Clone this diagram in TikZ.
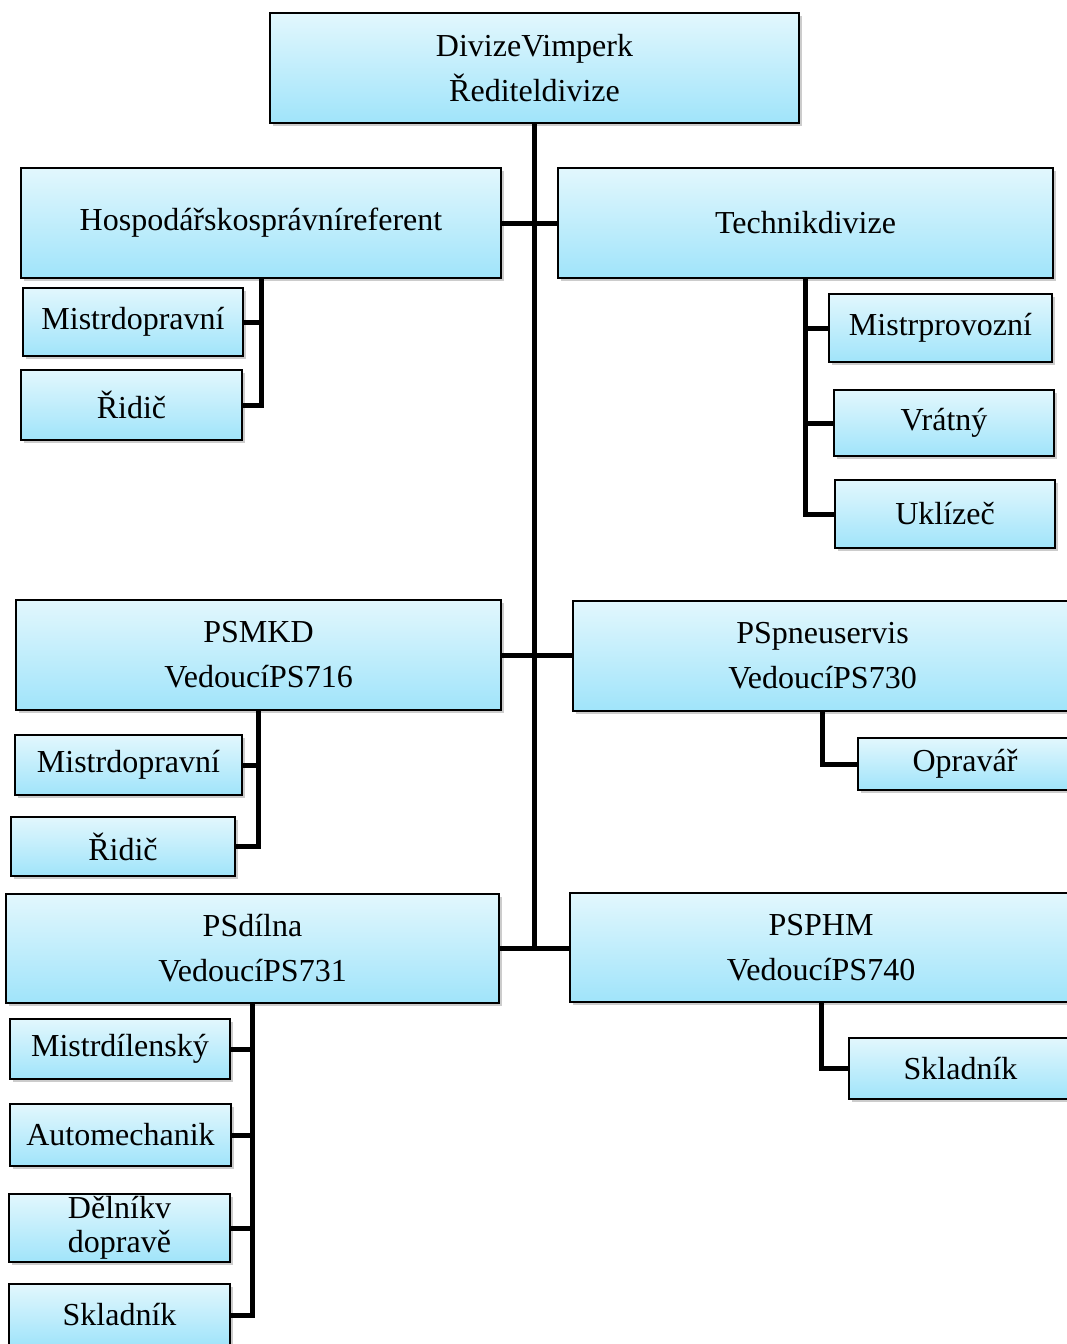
\documentclass[tikz,border=0pt]{standalone}
\usepackage{fontspec}
\setmainfont{Liberation Serif}
\usepackage{tikz}
\usetikzlibrary{calc}
\usetikzlibrary{positioning, shadows}

\definecolor{boxtop}{RGB}{226,247,253}
\definecolor{boxbottom}{RGB}{160,228,250}

\begin{document}
\begin{tikzpicture}[
    x=1pt, y=-1pt,
    % Define the style for the boxes
    unit/.style={draw, line width=2.6pt, top color=boxtop, bottom color=boxbottom,
        drop shadow={shadow xshift=3pt, shadow yshift=-3pt, opacity=0.4},
        align=center, inner sep=0pt, font=\fontsize{32}{45}\selectfont},
    sz/.style 2 args={minimum width=#1, minimum height=#2},
    % Define the thickness of the connectors
    link/.style={line width=5pt}
]

    \useasboundingbox (0,0) rectangle (1067,1344);

    % --- Director ---
    \node[unit, sz={529pt}{110pt}] (dir) at (534.5,68) {DivizeVimperk\\Řediteldivize};

    % --- First level ---
    \node[unit, sz={480pt}{110pt}] (hosp) at (261,223) {Hospodářskosprávníreferent};
    \node[unit, sz={495pt}{110pt}] (tech) at (805.5,223) {Technikdivize};
    \node[unit, sz={485pt}{110pt}] (psmkd) at (258.5,655) {PSMKD\\VedoucíPS716};
    \node[unit, sz={499pt}{110pt}] (pspneu) at (822.5,656) {PSpneuservis\\VedoucíPS730};
    \node[unit, sz={493pt}{109pt}] (psdilna) at (252.5,948.5) {PSdílna\\VedoucíPS731};
    \node[unit, sz={502pt}{109pt}] (psphm) at (821,947.5) {PSPHM\\VedoucíPS740};

    % --- Staff ---
    \node[unit, sz={220pt}{68pt}] (mdop1) at (133,322) {Mistrdopravní};
    \node[unit, sz={221pt}{70pt}] (ridic1) at (131.5,405) {Řidič};
    \node[unit, sz={223pt}{68pt}] (mprov) at (940.5,328) {Mistrprovozní};
    \node[unit, sz={220pt}{66pt}] (vratny) at (944,423) {Vrátný};
    \node[unit, sz={220pt}{68pt}] (uklizec) at (945,514) {Uklízeč};
    \node[unit, sz={227pt}{60pt}] (mdop2) at (128.5,765) {Mistrdopravní};
    \node[unit, sz={224pt}{59pt}] (ridic2) at (123,846.5) {Řidič};
    \node[unit, sz={214pt}{52pt}] (opravar) at (965,764) {Opravář};
    \node[unit, sz={220pt}{60pt}] (mdil) at (120,1049) {Mistrdílenský};
    \node[unit, sz={221pt}{62pt}] (automech) at (120.5,1135) {Automechanik};
    \node[unit, sz={221pt}{68pt}, font=\fontsize{32}{34}\selectfont] (delnik) at (119.5,1228) {Dělníkv\\dopravě};
    \node[unit, sz={221pt}{62pt}] (sklad1) at (119.5,1315) {Skladník};
    \node[unit, sz={223pt}{61pt}] (sklad2) at (960.5,1068.5) {Skladník};

    % --- Trunk and branches ---
    \draw[link] (dir.south) -- (dir.south |- psdilna.east);
    \draw[link] (hosp.east) -- (tech.west);
    \draw[link] (psmkd.east) -- (psmkd.east -| pspneu.west);
    \draw[link] (psdilna.east) -- (psdilna.east -| psphm.west);

    % --- Sub-branches ---
    \draw[link] (hosp.south) |- (ridic1.east);
    \draw[link] (mdop1.east) -- (mdop1.east -| hosp.south);

    \draw[link] (tech.south) |- (uklizec.west);
    \foreach \n in {mprov, vratny} {
        \draw[link] (\n.west) -- (\n.west -| tech.south);
    }

    \draw[link] (psmkd.south) |- (ridic2.east);
    \draw[link] (mdop2.east) -- (mdop2.east -| psmkd.south);

    \draw[link] (pspneu.south) |- (opravar.west);

    \draw[link] (psdilna.south) |- (sklad1.east);
    \foreach \n in {mdil, automech, delnik} {
        \draw[link] (\n.east) -- (\n.east -| psdilna.south);
    }

    \draw[link] (psphm.south) |- (sklad2.west);

\end{tikzpicture}
\end{document}
